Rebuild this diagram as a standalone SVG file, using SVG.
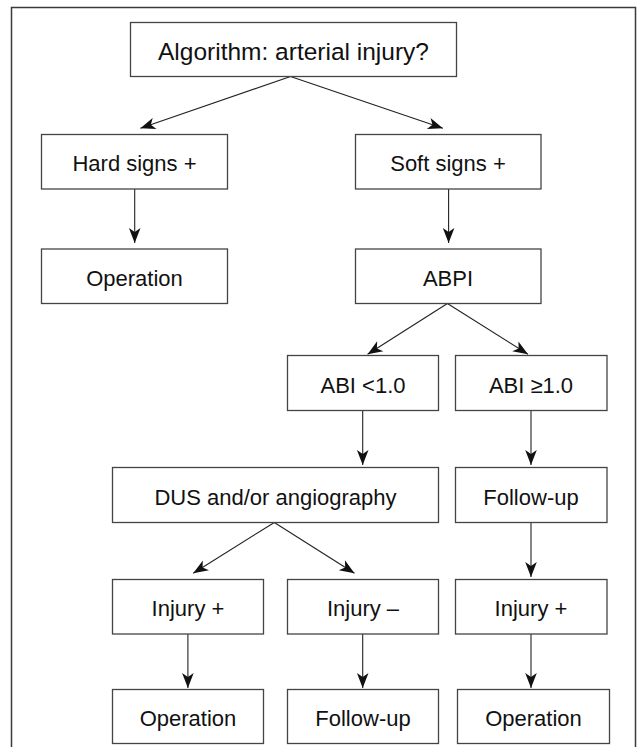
<svg xmlns="http://www.w3.org/2000/svg" width="641" height="747" viewBox="0 0 641 747">
<style>
.box{fill:#fff;stroke:#444;stroke-width:1.3}
.frame{fill:#fff;stroke:#3a3a3a;stroke-width:1.5}
.lbl{font-family:"Liberation Sans",Arial,sans-serif;font-size:22px;fill:#111;text-anchor:middle}
.title{font-size:24.5px}
.conn line{stroke:#222;stroke-width:1.1;marker-end:url(#ah)}
</style>
<defs>
<marker id="ah" viewBox="-16 -7 17 14" refX="0" refY="0" markerWidth="17" markerHeight="14" markerUnits="userSpaceOnUse" orient="auto">
<path d="M0,0 L-15,-5.8 L-11,0 L-15,5.8 Z" fill="#111"/>
</marker>
</defs>
<rect class="frame" x="11.5" y="7.5" width="624" height="750"/>
<g class="conn">
<line x1="290.5" y1="76.5" x2="140.4" y2="128.3"/>
<line x1="290.5" y1="76.5" x2="442.9" y2="128.3"/>
<line x1="134.7" y1="189" x2="134.7" y2="243"/>
<line x1="448.6" y1="189" x2="448.6" y2="243"/>
<line x1="447.4" y1="303.5" x2="367.6" y2="354.3"/>
<line x1="447.4" y1="303.5" x2="528" y2="354.3"/>
<line x1="362.7" y1="410.5" x2="362.7" y2="465"/>
<line x1="531" y1="410.5" x2="531" y2="465"/>
<line x1="274.3" y1="522.5" x2="193.2" y2="573.3"/>
<line x1="274.3" y1="522.5" x2="354.5" y2="573.3"/>
<line x1="531" y1="522.5" x2="531" y2="577"/>
<line x1="187.9" y1="634" x2="187.9" y2="688"/>
<line x1="362.7" y1="634" x2="362.7" y2="688"/>
<line x1="531" y1="634" x2="531" y2="688"/>
</g>
<g id="title"><rect class="box" x="130.5" y="22.5" width="326" height="54"/><text class="lbl title" x="293.5" y="60">Algorithm: arterial injury?</text></g>
<g id="hard"><rect class="box" x="41.5" y="134.5" width="186" height="54.5"/><text class="lbl" x="134.5" y="171">Hard signs +</text></g>
<g id="soft"><rect class="box" x="355.5" y="134.5" width="185.5" height="54.5"/><text class="lbl" x="448" y="171">Soft signs +</text></g>
<g id="op1"><rect class="box" x="41.5" y="249" width="186" height="54.5"/><text class="lbl" x="134.5" y="286">Operation</text></g>
<g id="abpi"><rect class="box" x="355.5" y="249" width="185.5" height="54.5"/><text class="lbl" x="448" y="286">ABPI</text></g>
<g id="abilt"><rect class="box" x="287.5" y="355.5" width="151" height="55"/><text class="lbl" x="363" y="392.5">ABI &lt;1.0</text></g>
<g id="abige"><rect class="box" x="455.5" y="355.5" width="151.5" height="55"/><text class="lbl" x="531" y="392.5">ABI ≥1.0</text></g>
<g id="dus"><rect class="box" x="112.5" y="467.5" width="326" height="55"/><text class="lbl" x="275.5" y="504.5">DUS and/or angiography</text></g>
<g id="fu1"><rect class="box" x="455.5" y="467.5" width="151.5" height="55"/><text class="lbl" x="531" y="504.5">Follow-up</text></g>
<g id="injA"><rect class="box" x="112.5" y="579.5" width="151" height="54.5"/><text class="lbl" x="188" y="616">Injury +</text></g>
<g id="injB"><rect class="box" x="287.5" y="579.5" width="151" height="54.5"/><text class="lbl" x="363" y="616">Injury –</text></g>
<g id="injC"><rect class="box" x="455.5" y="579.5" width="151.5" height="54.5"/><text class="lbl" x="531" y="616">Injury +</text></g>
<g id="opA"><rect class="box" x="112.5" y="689.5" width="151" height="54"/><text class="lbl" x="188" y="726">Operation</text></g>
<g id="fuB"><rect class="box" x="287.5" y="689.5" width="151" height="54"/><text class="lbl" x="363" y="726">Follow-up</text></g>
<g id="opC"><rect class="box" x="457.5" y="689.5" width="152" height="54"/><text class="lbl" x="533.5" y="726">Operation</text></g>
</svg>
